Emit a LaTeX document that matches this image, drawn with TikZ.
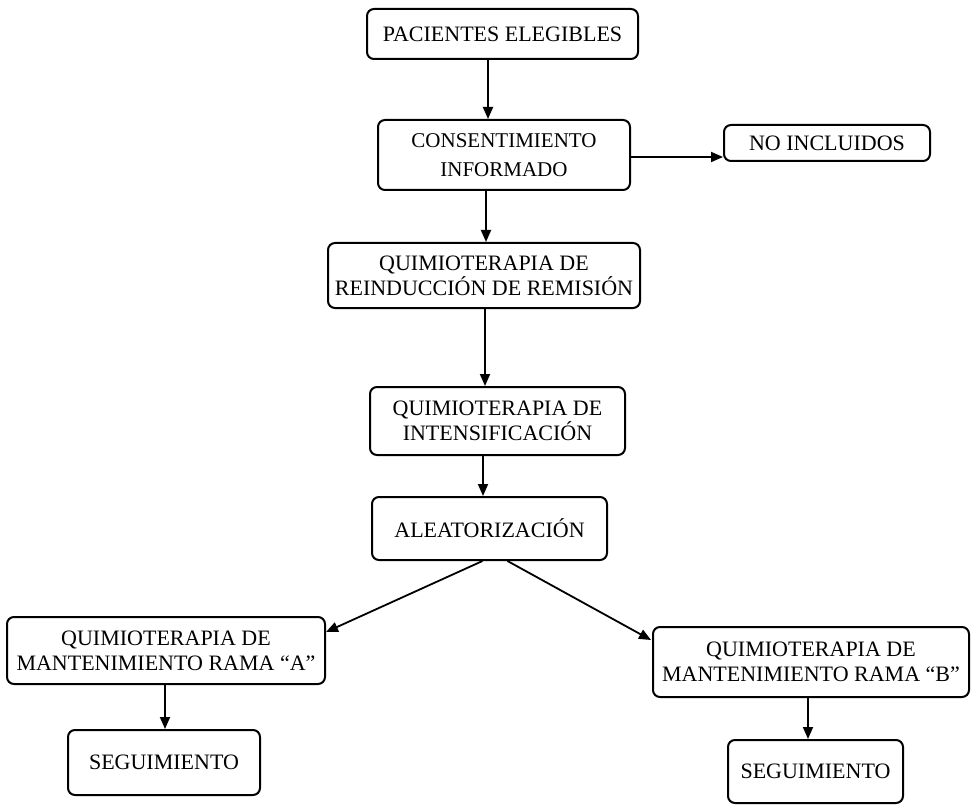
\documentclass[tikz,border=0pt]{standalone}
\usepackage{fontspec}
\setmainfont{Liberation Serif}
\usetikzlibrary{arrows.meta,calc}
\begin{document}
\begin{tikzpicture}[x=1pt,y=-1pt,
  box/.style={draw, line width=2pt, rounded corners=7pt, align=center, inner sep=0pt,
    font=\fontsize{22}{25}\selectfont},
  arr/.style={line width=1.8pt, -{Triangle[length=12pt,width=10pt]}}]
\useasboundingbox (0,0) rectangle (972,805);
\node[box, minimum width=271pt, minimum height=50pt] (b1) at (502.5,34) {PACIENTES ELEGIBLES};
\node[box, minimum width=252pt, minimum height=70pt, font=\fontsize{21}{29}\selectfont] (b2) at (504,155) {CONSENTIMIENTO\\INFORMADO};
\node[box, minimum width=206pt, minimum height=36pt] (nonc) at (827,143) {NO INCLUIDOS};
\node[box, minimum width=312pt, minimum height=65pt] (b4) at (484,275.5) {QUIMIOTERAPIA DE\\REINDUCCIÓN DE REMISIÓN};
\node[box, minimum width=255pt, minimum height=68pt] (b5) at (497.5,421) {QUIMIOTERAPIA DE\\INTENSIFICACIÓN};
\node[box, minimum width=235pt, minimum height=63pt] (b6) at (489.5,528.5) {ALEATORIZACIÓN};
\node[box, minimum width=318pt, minimum height=67pt] (b7) at (166,650.5) {QUIMIOTERAPIA DE\\MANTENIMIENTO RAMA “A”};
\node[box, minimum width=316pt, minimum height=70pt] (b8) at (811,662) {QUIMIOTERAPIA DE\\MANTENIMIENTO RAMA “B”};
\node[box, minimum width=175pt, minimum height=63pt] (b10) at (815.5,771.5) {SEGUIMIENTO};
\node[box, minimum width=192pt, minimum height=65pt] (b9) at (164,762.5) {SEGUIMIENTO};

\draw[arr] ([xshift=-14.5pt]b1.south) -- ([xshift=-14.5pt]b1.south |- b2.north);
\draw[arr] ([yshift=-2pt]b2.east) -- ([yshift=-2pt]b2.east -| nonc.west);
\draw[arr] ([xshift=-18pt]b2.south) -- ([xshift=-18pt]b2.south |- b4.north);
\draw[arr] ([xshift=1pt]b4.south) -- ([xshift=1pt]b4.south |- b5.north);
\draw[arr] ([xshift=-14.5pt]b5.south) -- ([xshift=-14.5pt]b5.south |- b6.north);
\draw[arr] ([xshift=-7pt]b6.south) -- ([yshift=-16pt]b7.north east);
\draw[arr] ([xshift=18pt]b6.south) -- ([xshift=-1pt,yshift=-14pt]b8.north west);
\draw[arr] ([xshift=-1pt]b7.south) -- ([xshift=-1pt]b7.south |- b9.north);
\draw[arr] ([xshift=-3pt]b8.south) -- ([xshift=-3pt]b8.south |- b10.north);
\end{tikzpicture}
\end{document}
